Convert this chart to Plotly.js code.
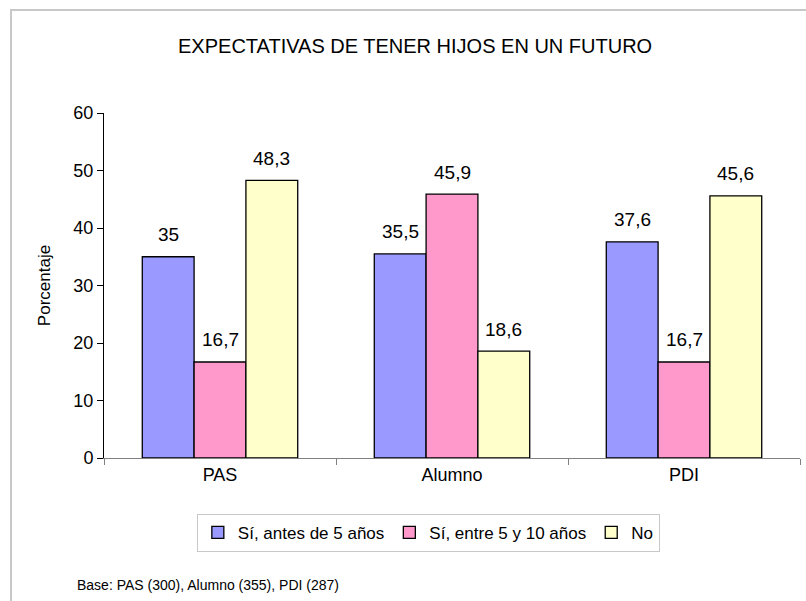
<!DOCTYPE html>
<html>
<head>
<meta charset="utf-8">
<script src="https://cdn.plot.ly/plotly-3.0.1.min.js"></script>
<style>
html,body{margin:0;padding:0;background:#fff;}
#chart{width:806px;height:601px;}
</style>
</head>
<body>
<div id="chart"></div>
<script>
const categories = ["PAS", "Alumno", "PDI"];
const seriesNames = ["Sí, antes de 5 años", "Sí, entre 5 y 10 años", "No"];
const siAntes5 = [35, 35.5, 37.6];
const siEntre5y10 = [16.7, 45.9, 16.7];
const noValues = [48.3, 18.6, 45.6];
const yTicks = [0, 10, 20, 30, 40, 50, 60];
const colors = ["#9999FF", "#FF99CC", "#FFFFCC"];

const FONT = "Liberation Sans, Arial, sans-serif";
const fmt = v => String(v).replace('.', ',');

const allSeries = [siAntes5, siEntre5y10, noValues];
const traces = allSeries.map((vals, i) => ({
  type: 'bar',
  name: seriesNames[i],
  x: categories,
  y: vals,
  marker: {color: colors[i], line: {color: '#000', width: 1.3}}
}));

// value labels placed above each bar (positions via the axes)
const BAR_PX = 51.8;
const labelAnnotations = [];
allSeries.forEach((vals, i) => {
  vals.forEach((v, j) => {
    labelAnnotations.push({
      xref: 'x', yref: 'y',
      x: categories[j], y: v,
      text: fmt(v),
      xshift: (i - 1) * BAR_PX,
      yshift: 22,
      yanchor: 'middle', xanchor: 'center',
      showarrow: false,
      font: {family: FONT, size: 19, color: '#000'}
    });
  });
});

const layout = {
  width: 806, height: 601,
  margin: {l: 104, r: 6, t: 113, b: 143},
  paper_bgcolor: '#fff',
  plot_bgcolor: '#fff',
  font: {family: FONT, size: 17, color: '#000'},
  separators: ',.',
  barmode: 'group',
  bargap: 0.33,
  bargroupgap: 0,
  showlegend: true,
  title: {
    text: 'EXPECTATIVAS DE TENER HIJOS EN UN FUTURO',
    font: {family: FONT, size: 20, color: '#000'},
    x: 0.447, xanchor: 'center', xref: 'paper',
    y: 1 - 46 / 601, yref: 'container', yanchor: 'middle'
  },
  xaxis: {
    type: 'category',
    tickson: 'boundaries',
    ticks: 'outside', ticklen: 6, tickcolor: '#808080',
    showline: true, linecolor: '#808080', linewidth: 1,
    showgrid: false, zeroline: false,
    tickfont: {family: FONT, size: 18, color: '#000'}
  },
  yaxis: {
    range: [0, 60],
    tickvals: yTicks,
    ticktext: yTicks.map(String),
    ticks: 'outside', ticklen: 6, tickcolor: '#000',
    showline: true, linecolor: '#000', linewidth: 1,
    showgrid: false, zeroline: false,
    tickfont: {family: FONT, size: 18, color: '#000'},
    title: {text: 'Porcentaje', font: {family: FONT, size: 17, color: '#000'}, standoff: 18}
  },
  legend: {
    orientation: 'h',
    x: 0.466, xanchor: 'center',
    y: -0.217, yanchor: 'middle',
    bgcolor: '#fff',
    bordercolor: '#c8c8c8', borderwidth: 1,
    font: {family: FONT, size: 17, color: '#000'},
    traceorder: 'normal',
    itemwidth: 30
  },
  shapes: [{
    type: 'rect', xref: 'paper', yref: 'paper',
    x0: -0.1336, x1: 1.05, y0: -0.6, y1: 1.2986,
    line: {color: '#c8c8c8', width: 2},
    fillcolor: 'rgba(0,0,0,0)',
    layer: 'below'
  }],
  annotations: labelAnnotations.concat([{
    text: 'Base: PAS (300), Alumno (355), PDI (287)',
    xref: 'paper', yref: 'paper',
    x: (75 - 104) / 696, xanchor: 'left',
    y: (458 - 585) / 345, yanchor: 'middle',
    showarrow: false,
    font: {family: FONT, size: 14, color: '#000'}
  }])
};

Plotly.newPlot('chart', traces, layout, {displayModeBar: false, staticPlot: true});
</script>
</body>
</html>
